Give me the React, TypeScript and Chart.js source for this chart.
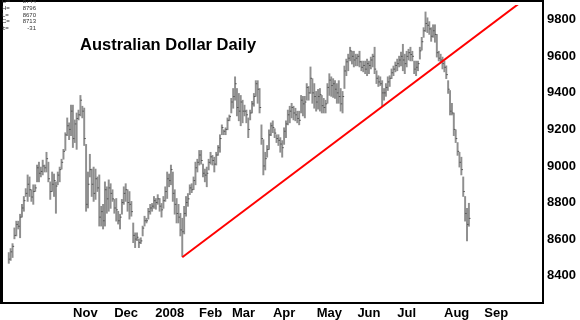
import React, { useEffect, useRef } from 'react';
import { Chart, registerables } from 'chart.js';
Chart.register(...registerables);

// Daily bars (trading-day index 0..244)
const highs = [
  8526, 8548, 8575, 8661, 8698, 8698, 8736, 8790, 8833, 8876,
  8951, 8940, 8870, 8897, 8897, 9005, 9021, 8994, 9032, 9005,
  9075, 9021, 8913, 8967, 8956, 8913, 8967, 8994, 9037, 9091,
  9182, 9263, 9236, 9333, 9333, 9252, 9290, 9306, 9386, 9327,
  9317, 9118, 8967, 9064, 8983, 8994, 8983, 8940, 8951, 8779,
  8790, 8913, 8886, 8924, 8903, 8870, 8817, 8822, 8752, 8736,
  8817, 8886, 8903, 8870, 8860, 8806, 8688, 8634, 8634, 8601,
  8607, 8671, 8725, 8714, 8768, 8790, 8795, 8833, 8822, 8843,
  8822, 8795, 8833, 8886, 8967, 8956, 9005, 8967, 8870, 8822,
  8790, 8741, 8714, 8779, 8833, 8849, 8897, 8903, 8940, 9021,
  9037, 9085, 9085, 9010, 8983, 8994, 9037, 9075, 9058, 9048,
  9075, 9112, 9171, 9225, 9198, 9209, 9263, 9279, 9370, 9424,
  9488, 9424, 9397, 9386, 9360, 9333, 9306, 9263, 9306, 9354,
  9397, 9467, 9467, 9424, 9225, 9144, 9075, 9112, 9198, 9236,
  9247, 9204, 9171, 9171, 9155, 9139, 9209, 9247, 9306, 9327,
  9343, 9327, 9316, 9300, 9300, 9386, 9381, 9381, 9451, 9435,
  9542, 9478, 9451, 9408, 9419, 9424, 9386, 9370, 9360, 9451,
  9505, 9488, 9478, 9467, 9451, 9467, 9424, 9408, 9547, 9585,
  9612, 9650, 9628, 9628, 9612, 9612, 9628, 9574, 9574, 9574,
  9585, 9574, 9596, 9612, 9650, 9521, 9494, 9488, 9467, 9424,
  9451, 9488, 9494, 9531, 9547, 9569, 9585, 9601, 9623, 9666,
  9612, 9628, 9639, 9650, 9628, 9574, 9574, 9574, 9650, 9704,
  9757, 9843, 9811, 9790, 9757, 9773, 9773, 9720, 9628, 9612,
  9596, 9574, 9548, 9467, 9413, 9343, 9290, 9198, 9128, 9075,
  9048, 8940, 8833, 8768, 8796,
];
const lows = [
  8467, 8483, 8499, 8601, 8617, 8655, 8607, 8720, 8752, 8833,
  8806, 8833, 8806, 8790, 8860, 8913, 8913, 8940, 8951, 8967,
  8967, 8913, 8817, 8860, 8833, 8741, 8897, 8913, 8983, 9037,
  9085, 9166, 9144, 9166, 9101, 9128, 9091, 9252, 9274, 9263,
  9112, 8752, 8770, 8940, 8833, 8806, 8817, 8860, 8671, 8671,
  8655, 8671, 8741, 8752, 8768, 8806, 8741, 8698, 8682, 8655,
  8736, 8790, 8806, 8752, 8709, 8725, 8580, 8553, 8591, 8553,
  8575, 8617, 8671, 8688, 8709, 8736, 8752, 8768, 8763, 8790,
  8752, 8720, 8768, 8806, 8822, 8886, 8897, 8806, 8736, 8688,
  8688, 8617, 8505, 8628, 8725, 8779, 8843, 8854, 8870, 8897,
  8967, 9005, 9010, 8940, 8913, 8886, 8978, 9010, 9005, 8967,
  9005, 9058, 9075, 9171, 9171, 9171, 9198, 9247, 9290, 9316,
  9360, 9274, 9247, 9220, 9236, 9274, 9236, 9155, 9252, 9290,
  9327, 9381, 9343, 9290, 9118, 8951, 8978, 9048, 9091, 9166,
  9182, 9155, 9128, 9112, 9075, 9048, 9118, 9155, 9225, 9236,
  9263, 9252, 9247, 9236, 9225, 9290, 9274, 9263, 9360, 9360,
  9397, 9343, 9316, 9300, 9311, 9300, 9290, 9290, 9290, 9343,
  9386, 9381, 9375, 9370, 9343, 9343, 9300, 9290, 9424, 9494,
  9521, 9575, 9558, 9542, 9548, 9548, 9542, 9521, 9515, 9505,
  9494, 9505, 9531, 9542, 9505, 9451, 9435, 9440, 9327, 9360,
  9381, 9413, 9435, 9478, 9494, 9515, 9521, 9542, 9548, 9521,
  9505, 9542, 9580, 9575, 9575, 9505, 9494, 9521, 9585, 9634,
  9704, 9736, 9730, 9720, 9682, 9704, 9677, 9596, 9575, 9569,
  9531, 9515, 9478, 9397, 9279, 9279, 9166, 9128, 9058, 8994,
  8951, 8833, 8698, 8590, 8670,
];
const closes = [
  8490, 8530, 8560, 8620, 8680, 8670, 8720, 8770, 8810, 8850,
  8900, 8870, 8830, 8860, 8880, 8990, 8960, 8970, 9000, 8990,
  9040, 8930, 8860, 8900, 8920, 8890, 8950, 8980, 9020, 9080,
  9170, 9220, 9200, 9300, 9150, 9230, 9260, 9280, 9360, 9300,
  9150, 8790, 8900, 8980, 8900, 8850, 8930, 8880, 8720, 8750,
  8700, 8870, 8820, 8880, 8850, 8820, 8770, 8760, 8700, 8720,
  8800, 8850, 8870, 8800, 8790, 8750, 8620, 8600, 8610, 8580,
  8590, 8660, 8700, 8700, 8750, 8770, 8780, 8810, 8800, 8820,
  8780, 8760, 8810, 8860, 8930, 8920, 8980, 8850, 8790, 8740,
  8720, 8650, 8640, 8740, 8800, 8820, 8880, 8870, 8920, 8990,
  9020, 9060, 9030, 8960, 8950, 8960, 9020, 9050, 9030, 9010,
  9060, 9100, 9150, 9210, 9190, 9200, 9250, 9270, 9350, 9380,
  9450, 9320, 9300, 9350, 9300, 9300, 9280, 9200, 9290, 9340,
  9380, 9450, 9420, 9320, 9150, 9000, 9040, 9090, 9170, 9220,
  9210, 9180, 9150, 9140, 9120, 9100, 9190, 9230, 9280, 9300,
  9320, 9290, 9280, 9260, 9250, 9360, 9340, 9350, 9430, 9400,
  9480, 9400, 9380, 9350, 9380, 9390, 9330, 9320, 9340, 9430,
  9470, 9440, 9450, 9420, 9400, 9380, 9340, 9380, 9520, 9570,
  9590, 9630, 9600, 9580, 9590, 9600, 9570, 9540, 9550, 9530,
  9560, 9550, 9580, 9600, 9530, 9480, 9460, 9450, 9400, 9400,
  9430, 9460, 9480, 9510, 9530, 9550, 9560, 9580, 9600, 9580,
  9560, 9600, 9620, 9610, 9600, 9530, 9540, 9560, 9630, 9680,
  9740, 9780, 9770, 9750, 9710, 9740, 9720, 9620, 9590, 9580,
  9560, 9540, 9500, 9420, 9300, 9290, 9200, 9150, 9080, 9020,
  8980, 8860, 8740, 8680, 8713,
];

const monthLabels = ['Nov', 'Dec', '2008', 'Feb', 'Mar', 'Apr', 'May', 'Jun', 'Jul', 'Aug', 'Sep'];
const monthPositions = [40.6, 62.2, 85.4, 107, 124.5, 146, 170, 191, 211, 237.5, 258.5];
const priceTicks = [8400, 8600, 8800, 9000, 9200, 9400, 9600, 9800];

const trendStart = { x: 92, y: 8500 };
const trendEnd = { x: 272, y: 9900 };

const titleText = 'Australian Dollar Daily';
const readoutLabels = ['O=', 'H=', 'L=', 'C=', '±='];
const readoutValues = ['8744', '8796', '8670', '8713', '-31'];

const FONT = '"Liberation Sans", Arial, sans-serif';

export default function App() {
  const ref = useRef<HTMLCanvasElement | null>(null);

  useEffect(() => {
    if (!ref.current) return;

    const framePlugin = {
      id: 'frame',
      afterDraw(chart: any) {
        const ctx = chart.ctx;
        const a = chart.chartArea;
        ctx.save();
        ctx.fillStyle = '#000';
        ctx.fillRect(0, 0, a.right + 1, 2);
        ctx.fillRect(0, a.bottom - 1, a.right + 1, 2);
        ctx.fillRect(0, 0, 3, a.bottom + 1);
        ctx.fillRect(a.right - 1, 0, 2, a.bottom + 1);
        // title
        ctx.font = 'bold 16.5px ' + FONT;
        ctx.textBaseline = 'middle';
        ctx.textAlign = 'left';
        ctx.fillStyle = '#000';
        ctx.fillText(titleText, 80, 45);
        // readout
        ctx.font = '6px ' + FONT;
        ctx.fillStyle = '#333';
        readoutLabels.forEach((l, i) => {
          const y = 1.5 + i * 6.7;
          ctx.textAlign = 'left';
          ctx.fillText(l, 2, y);
          ctx.textAlign = 'right';
          ctx.fillText(readoutValues[i], 36, y);
        });
        ctx.restore();
      },
    };

    const chart = new Chart(ref.current, {
      type: 'bar',
      data: {
        datasets: [
          {
            type: 'bar',
            data: highs.map((h, i) => ({ x: i, y: [lows[i], h] })) as any,
            backgroundColor: '#8f8f8f',
            barThickness: 1.3,
            order: 2,
          } as any,
          {
            type: 'line',
            data: closes.map((c, i) => ({ x: i, y: c })),
            showLine: false,
            pointStyle: 'dash',
            pointRadius: 1.6,
            pointBorderWidth: 1,
            pointBorderColor: '#555',
            pointBackgroundColor: '#555',
            order: 1,
          } as any,
          {
            type: 'line',
            data: [trendStart, trendEnd],
            borderColor: '#ff0000',
            borderWidth: 2,
            pointRadius: 0,
            order: 0,
          } as any,
        ],
      },
      options: {
        responsive: false,
        animation: false,
        events: [],
        layout: { padding: { left: -2, top: 1, right: 0, bottom: 0 } },
        plugins: { legend: { display: false }, tooltip: { enabled: false } },
        scales: {
          x: {
            type: 'linear',
            position: 'bottom',
            min: -2,
            max: 283.3,
            offset: false,
            grid: { display: false, drawTicks: false },
            border: { display: false },
            afterBuildTicks: (s: any) => {
              s.ticks = monthPositions.map((v) => ({ value: v }));
            },
            afterFit: (s: any) => {
              s.height = 17;
              s.paddingLeft = 0;
              s.paddingRight = 0;
            },
            ticks: {
              autoSkip: false,
              maxRotation: 0,
              padding: 3,
              color: '#000',
              font: { family: FONT, size: 13, weight: 'bold' },
              callback: (_v: any, i: number) => monthLabels[i],
            },
          },
          y: {
            type: 'linear',
            position: 'right',
            min: 8250,
            max: 9881,
            grid: { display: false, drawTicks: false },
            border: { display: false },
            afterBuildTicks: (s: any) => {
              s.ticks = priceTicks.map((v) => ({ value: v }));
            },
            afterFit: (s: any) => {
              s.width = 37;
              s.paddingTop = 0;
              s.paddingBottom = 0;
            },
            ticks: {
              padding: 4,
              color: '#000',
              font: { family: FONT, size: 13, weight: 'bold' },
              callback: (v: any) => String(v),
            },
          },
        },
      } as any,
      plugins: [framePlugin],
    });

    return () => chart.destroy();
  }, []);

  return (
    <div style={{ position: 'absolute', left: 0, top: 0, width: 580, height: 320, background: '#fff' }}>
      <canvas ref={ref} width={580} height={320} style={{ width: 580, height: 320, display: 'block' }} />
    </div>
  );
}
